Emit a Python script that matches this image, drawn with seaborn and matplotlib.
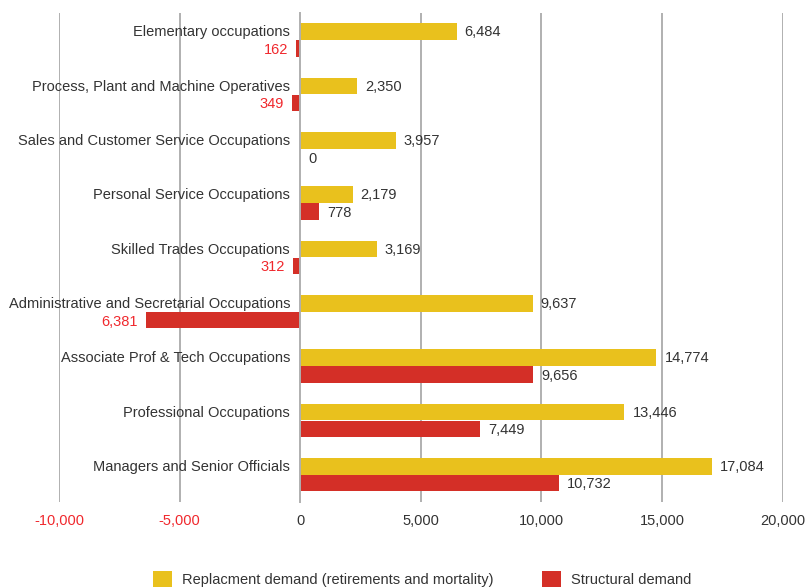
import pandas as pd
import numpy as np
import matplotlib
matplotlib.use("Agg")
import matplotlib.pyplot as plt
import seaborn as sns

occupations = [
    "Elementary occupations",
    "Process, Plant and Machine Operatives",
    "Sales and Customer Service Occupations",
    "Personal Service Occupations",
    "Skilled Trades Occupations",
    "Administrative and Secretarial Occupations",
    "Associate Prof & Tech Occupations",
    "Professional Occupations",
    "Managers and Senior Officials",
]
replacement = [6484, 2350, 3957, 2179, 3169, 9637, 14774, 13446, 17084]
structural = [-162, -349, 0, 778, -312, -6381, 9656, 7449, 10732]
series_names = ["Replacment demand (retirements and mortality)", "Structural demand"]
x_ticks = [-10000, -5000, 0, 5000, 10000, 15000, 20000]

YELLOW = "#E9C11D"
RED = "#D42F27"
TEXT = "#333333"
NEG = "#F0282D"

sns.set_style("white")
plt.rcParams["font.family"] = ["Liberation Sans", "DejaVu Sans"]

df = pd.DataFrame({
    "Occupation": occupations * 2,
    "Value": replacement + structural,
    "Series": [series_names[0]] * len(occupations) + [series_names[1]] * len(occupations),
})

fig = plt.figure(figsize=(8.12, 5.87), dpi=100)
ax = fig.add_axes([0.0727, 0.145, 0.891, 0.833])

sns.barplot(data=df, y="Occupation", x="Value", hue="Series", order=occupations,
            hue_order=series_names, palette=[YELLOW, RED], orient="h",
            width=0.62, gap=0.02, ax=ax, legend=True, saturation=1, linewidth=0)

ax.set_xlim(-10000, 20000)
ax.set_ylim(len(occupations) - 0.5, -0.5)
ax.set_xticks(x_ticks)
ax.set_xticklabels([f"{v:,}" for v in x_ticks], fontsize=10.5)
for lbl, v in zip(ax.get_xticklabels(), x_ticks):
    lbl.set_color(NEG if v < 0 else TEXT)
ax.tick_params(axis="x", length=0, pad=9)
ax.set_xlabel("")
ax.set_ylabel("")

# vertical gridlines
for v in x_ticks:
    if v != 0:
        ax.axvline(v, color="#b0b0b0", lw=1.4, zorder=0)

for s in ["top", "right", "bottom"]:
    ax.spines[s].set_visible(False)
ax.spines["left"].set_position(("data", 0))
ax.spines["left"].set_color("#b0b0b0")
ax.spines["left"].set_linewidth(1.4)
ax.spines["left"].set_zorder(3)
ax.set_yticks(np.arange(len(occupations) + 1) - 0.5)
ax.set_yticklabels([])
ax.tick_params(axis="y", length=4, color="#b0b0b0", width=1.4, direction="out")

# category labels next to zero axis
for i, name in enumerate(occupations):
    ax.text(-420, i - 0.14, name, ha="right", va="center", fontsize=10.5, color=TEXT)

# value labels
off = 330
for i, (r, s) in enumerate(zip(replacement, structural)):
    ax.text(r + off, i - 0.14, f"{r:,}", ha="left", va="center", fontsize=10.5, color=TEXT)
    if s < 0:
        ax.text(s - 340, i + 0.18, f"{abs(s):,}", ha="right", va="center", fontsize=10.5, color=NEG)
    else:
        ax.text(s + off, i + 0.18, f"{s:,}", ha="left", va="center", fontsize=10.5, color=TEXT)

handles, labels = ax.get_legend_handles_labels()
ax.get_legend().remove()
fig.legend(handles, labels, loc="lower center", bbox_to_anchor=(0.52, -0.022), ncol=2,
           frameon=False, fontsize=10.5, handlelength=1.3, handleheight=1.3,
           handletextpad=0.7, columnspacing=3.3, labelcolor=TEXT)

fig.savefig("out.png", dpi=100)
